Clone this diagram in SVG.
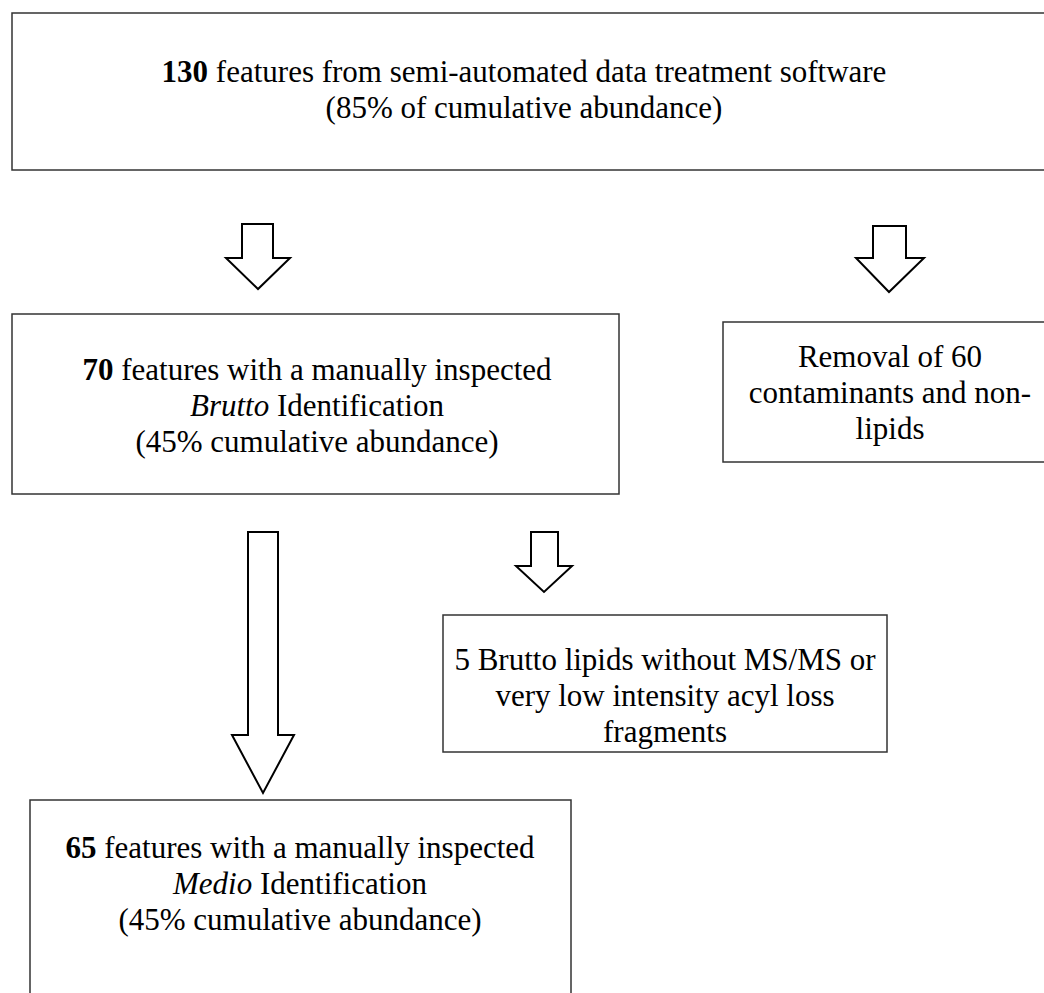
<svg xmlns="http://www.w3.org/2000/svg" width="1044" height="993" viewBox="0 0 1044 993">
<style>
.box{fill:#fff;stroke:#333;stroke-width:1.5}
.arr{fill:#fff;stroke:#000;stroke-width:2;stroke-linejoin:miter}
text{font-family:"Liberation Serif","Times New Roman",serif;font-size:31px;fill:#000;text-anchor:middle}
.b{font-weight:bold}
.i{font-style:italic}
</style>
<rect width="1044" height="993" fill="#fff"/>
<g id="connectors">
<polygon class="arr" points="242,224 273,224 273,258 290,258 258,289 226,258 242,258"/>
<polygon class="arr" points="873,226 906,226 906,258 924,258 889,292 856,258 873,258"/>
<polygon class="arr" points="248,532 278,532 278,735 294,735 263,793 232,735 248,735"/>
<polygon class="arr" points="531,532 558,532 558,566 572,566 544,592 516,566 531,566"/>
</g>
<g id="n1">
<rect class="box" x="12" y="13" width="1045" height="157"/>
<text x="524" y="82"><tspan class="b">130</tspan> features from semi-automated data treatment software</text>
<text x="524" y="118">(85% of cumulative abundance)</text>
</g>
<g id="n2">
<rect class="box" x="12" y="314" width="607" height="180"/>
<text x="317" y="380"><tspan class="b">70</tspan> features with a manually inspected</text>
<text x="317" y="416"><tspan class="i">Brutto</tspan> Identification</text>
<text x="317" y="452">(45% cumulative abundance)</text>
</g>
<g id="n3">
<rect class="box" x="723" y="322" width="334" height="140"/>
<text x="890" y="367">Removal of 60</text>
<text x="890" y="403">contaminants and non-</text>
<text x="890" y="439">lipids</text>
</g>
<g id="n4">
<rect class="box" x="443" y="615" width="444" height="137"/>
<text x="665" y="670">5 Brutto lipids without MS/MS or</text>
<text x="665" y="706">very low intensity acyl loss</text>
<text x="665" y="742">fragments</text>
</g>
<g id="n5">
<rect class="box" x="30" y="800" width="541" height="210"/>
<text x="300" y="858"><tspan class="b">65</tspan> features with a manually inspected</text>
<text x="300" y="894"><tspan class="i">Medio</tspan> Identification</text>
<text x="300" y="930">(45% cumulative abundance)</text>
</g>
</svg>
